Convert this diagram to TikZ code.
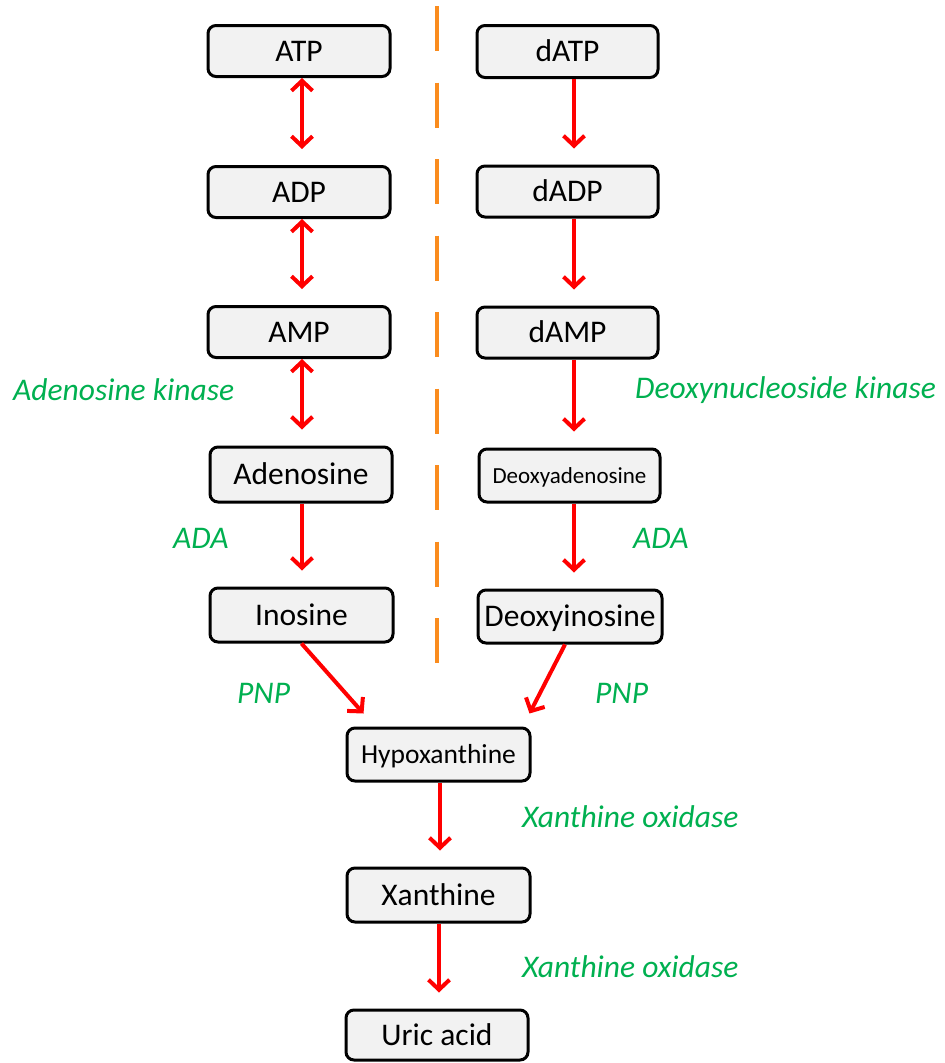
\documentclass[tikz,border=0pt]{standalone}
\usepackage{fontspec}
\setmainfont{Carlito}
\usetikzlibrary{arrows.meta,calc}
\definecolor{boxfill}{RGB}{242,242,242}
\definecolor{lblgreen}{RGB}{0,176,80}
\definecolor{dashorange}{RGB}{250,140,30}
\tikzset{
  mol/.style={draw=black, line width=3pt, rounded corners=8pt, fill=boxfill,
    minimum width=182pt, minimum height=51pt, inner sep=0pt,
    font=\fontsize{31.5}{31.5}\selectfont, text height=20pt, text depth=0pt},
  arr/.style={draw=red, line width=4pt, -{Straight Barb[length=10pt,width=21pt]}, shorten >=16pt},
  darr/.style={draw=red, line width=4pt, {Straight Barb[length=10pt,width=21pt]}-{Straight Barb[length=10pt,width=21pt]}, shorten >=16pt},
  enz/.style={text=lblgreen, font=\fontsize{31.5}{31.5}\selectfont\itshape, inner sep=0pt, anchor=base west},
}
\begin{document}
\begin{tikzpicture}[x=1pt,y=-1pt]
\useasboundingbox (0,0) rectangle (945,1063);
% divider
\draw[dashorange, line width=4pt, dash pattern=on 45pt off 31.5pt] (437,6) -- (437,665);
% left column
\node[mol] (ATP) at (299,51) {ATP};
\node[mol] (ADP) at (299,192) {ADP};
\node[mol] (AMP) at (299,332) {AMP};
\node[mol, minimum height=55pt] (Ado) at (301,474.5) {Adenosine};
\node[mol, minimum width=183pt, minimum height=54pt] (Ino) at (301.5,615) {Inosine};
% right column
\node[mol, minimum width=181pt, minimum height=52pt] (dATP) at (567.5,51.5) {dATP};
\node[mol, minimum width=181pt] (dADP) at (567.5,191.5) {dADP};
\node[mol, minimum width=181pt] (dAMP) at (567.5,332.5) {dAMP};
\node[mol, minimum width=181pt, minimum height=53pt, font=\fontsize{23}{23}\selectfont, text height=15pt] (dAdo) at (569.5,475.5) {Deoxyadenosine};
\node[mol, minimum width=184pt, minimum height=53pt] (dIno) at (570,616.5) {Deoxyinosine};
% bottom column
\node[mol, minimum width=183pt, minimum height=53pt, font=\fontsize{27.5}{27.5}\selectfont, text height=18pt] (Hyp) at (438.5,754.5) {Hypoxanthine};
\node[mol, minimum width=183pt, minimum height=54pt] (Xan) at (438.5,895) {Xanthine};
\node[mol, minimum height=50pt] (Uric) at (437,1035) {Uric acid};
% arrows
\draw[darr] ([xshift=3pt]ATP.south) -- ([xshift=3pt]ADP.north);
\draw[darr] ([xshift=3pt]ADP.south) -- ([xshift=3pt]AMP.north);
\draw[darr] ([xshift=3pt]AMP.south) -- ([xshift=1pt]Ado.north);
\draw[arr] ([xshift=1pt]Ado.south) -- ([xshift=0.5pt]Ino.north);
\draw[arr] ([xshift=6.5pt]dATP.south) -- ([xshift=6.5pt]dADP.north);
\draw[arr] ([xshift=6.5pt]dADP.south) -- ([xshift=6.5pt]dAMP.north);
\draw[arr] ([xshift=6.5pt]dAMP.south) -- ([xshift=4.5pt]dAdo.north);
\draw[arr] ([xshift=4.5pt]dAdo.south) -- ([xshift=4pt]dIno.north);
\draw[arr, shorten >=0pt] (Ino.south) -- ($(Hyp.north west)+(18,-13)$);
\draw[arr, shorten >=0pt] ([xshift=-5pt]dIno.south) -- ($(Hyp.north east)+(-2,-13)$);
\draw[arr] ([xshift=1.5pt]Hyp.south) -- ([xshift=1.5pt]Xan.north);
\draw[arr] ([xshift=0.5pt]Xan.south) -- ([xshift=2pt]Uric.north);
% enzyme labels
\node[enz] (lak) at (13,400) {Adenosine kinase};
\node[enz] (lada1) at (173,548) {ADA};
\node[enz] (ldk) at (635,398) {Deoxynucleoside kinase};
\node[enz] (lada2) at (633,548) {ADA};
\node[enz] (lpnp1) at (237,703) {PNP};
\node[enz] (lpnp2) at (595,703) {PNP};
\node[enz] (lxo1) at (522,827) {Xanthine oxidase};
\node[enz] (lxo2) at (522,977) {Xanthine oxidase};
\end{tikzpicture}
\end{document}
